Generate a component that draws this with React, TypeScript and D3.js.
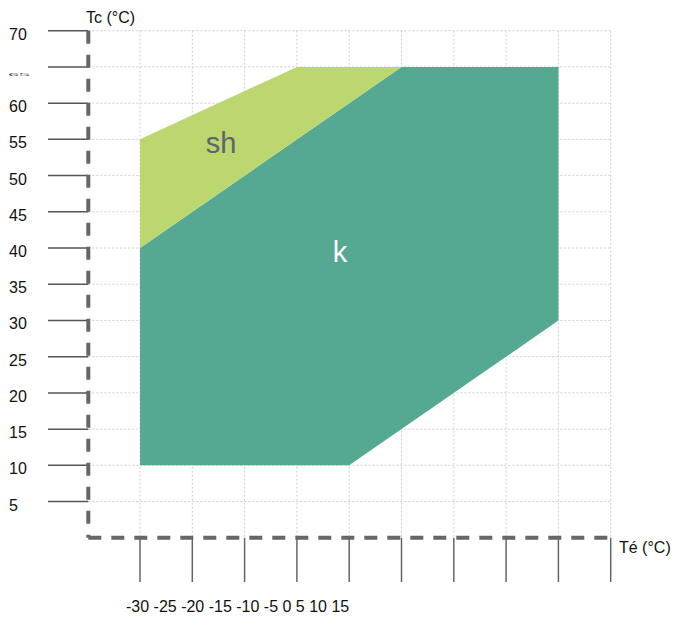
import React from "react";
import * as d3 from "d3";

// evaporating temp (Té) ticks and condensing temp (Tc) ticks
const teTicks = [-30, -25, -20, -15, -10, -5, 0, 5, 10, 15];
const tcTicks = [5, 10, 15, 20, 25, 30, 35, 40, 45, 50, 55, 60, 65, 70];

// envelope "k"
const kTe = [-30, -10, 10, 10, -5, -30];
const kTc = [10, 10, 30, 65, 65, 40];

// envelope "sh"
const shTe = [-30, -5, -15, -30];
const shTc = [40, 65, 65, 55];

const W = 675;
const H = 618;
const FONT = "'Liberation Sans', Arial, sans-serif";

export default function App() {
  const x = d3.scaleLinear().domain([-30, 15]).range([140, 610.7]);
  const y = d3.scaleLinear().domain([0, 70]).range([537.8, 30.7]);
  const axisX = 88.3;
  const axisY = y(0);

  const line = d3
    .line<[number, number]>()
    .x((d) => x(d[0]))
    .y((d) => y(d[1]));

  const kPts = kTe.map((t, i) => [t, kTc[i]] as [number, number]);
  const shPts = shTe.map((t, i) => [t, shTc[i]] as [number, number]);

  return (
    <svg
      width={W}
      height={H}
      style={{ position: "absolute", left: 0, top: 0, background: "#fff" }}
      fontFamily={FONT}
    >
      {/* dotted grid */}
      <g stroke="#cfcfcf" strokeWidth={1} strokeDasharray="2,2">
        {tcTicks.map((t) => (
          <line key={"h" + t} x1={axisX} x2={x(15)} y1={y(t)} y2={y(t)} />
        ))}
        {teTicks.map((t) => (
          <line key={"v" + t} x1={x(t)} x2={x(t)} y1={y(70)} y2={axisY} />
        ))}
      </g>

      {/* regions */}
      <path d={line(kPts) + "Z"} fill="#55a892" />
      <path d={line(shPts) + "Z"} fill="#bcd76f" />

      <text x={221} y={153} fontSize={29} fill="#5b6470" textAnchor="middle">
        sh
      </text>
      <text x={340} y={262} fontSize={29} fill="#ffffff" textAnchor="middle">
        k
      </text>

      {/* y ticks */}
      <g stroke="#555" strokeWidth={1.5}>
        {tcTicks.map((t) => (
          <line key={"yt" + t} x1={48} x2={axisX} y1={y(t)} y2={y(t)} />
        ))}
      </g>
      {tcTicks.map((t) =>
        t === 65 ? (
          <text
            key={"yl" + t}
            x={8}
            y={y(t) + 9}
            fontSize={4}
            fill="#555"
            textLength={22}
            lengthAdjust="spacingAndGlyphs"
          >
            {t}
          </text>
        ) : (
          <text key={"yl" + t} x={9} y={y(t) + 9} fontSize={16} fill="#111">
            {t}
          </text>
        )
      )}

      {/* x ticks */}
      <g stroke="#666" strokeWidth={1.5}>
        {teTicks.map((t) => (
          <line key={"xt" + t} x1={x(t)} x2={x(t)} y1={axisY} y2={582} />
        ))}
      </g>
      <text x={126} y={612} fontSize={16} fill="#111">
        {teTicks.join(" ")}
      </text>

      {/* dashed axes */}
      <line
        x1={axisX}
        x2={axisX}
        y1={y(70)}
        y2={axisY}
        stroke="#666"
        strokeWidth={4}
        strokeDasharray="13,11"
      />
      <line
        x1={axisX}
        x2={x(15) + 2}
        y1={axisY}
        y2={axisY}
        stroke="#666"
        strokeWidth={4}
        strokeDasharray="13,10"
      />

      <text x={86} y={23} fontSize={16} fill="#111">
        Tc (°C)
      </text>
      <text x={619} y={553} fontSize={16} fill="#111">
        Té (°C)
      </text>
    </svg>
  );
}
